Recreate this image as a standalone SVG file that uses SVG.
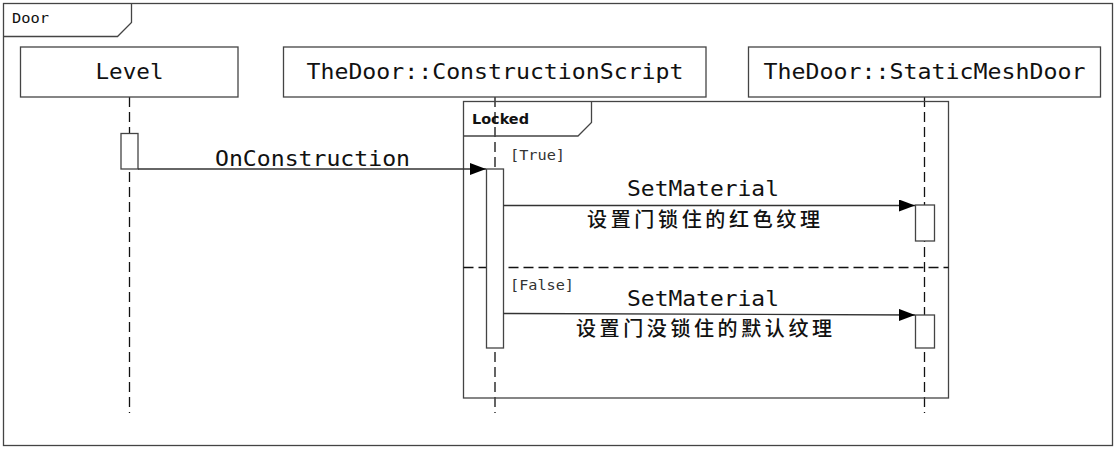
<svg xmlns="http://www.w3.org/2000/svg" width="1118" height="449" viewBox="0 0 1118 449">
<style>
.frame{fill:none;stroke:#444;stroke-width:1.3}
.box{fill:#fff;stroke:#444;stroke-width:1.3}
.life{fill:none;stroke:#111;stroke-width:1.3;stroke-dasharray:10 5}
.act{fill:#fff;stroke:#444;stroke-width:1.3}
.msg{fill:none;stroke:#333;stroke-width:1.3}
.mono{font-family:"DejaVu Sans Mono","Liberation Mono",monospace;fill:#111}
.big{font-size:22px}
.small{font-size:14px;font-family:"DejaVu Sans Mono","Liberation Mono",monospace;fill:#111}
.guard{font-size:14px;font-family:"DejaVu Sans Mono","Liberation Mono",monospace;fill:#333}
.cjk{font-family:"Noto Sans CJK SC",sans-serif;font-size:20px;fill:#111;font-weight:500}
</style>
<defs>
<marker id="arr" markerWidth="16" markerHeight="12" refX="16" refY="6" orient="auto" markerUnits="userSpaceOnUse">
<path d="M0,0 L16,6 L0,12 Z" fill="#000"/>
</marker>
</defs>
<rect width="1118" height="449" fill="#fff"/>
<g id="frame-door">
<rect x="3.5" y="3.5" width="1109" height="442" class="frame"/>
<path d="M3.5,36.5 H117.5 L131.5,22.5 V3.5" class="frame"/>
<text x="12" y="23" class="small" textLength="37" lengthAdjust="spacingAndGlyphs">Door</text>
</g>
<g id="lifelines">
<line x1="129.5" y1="97" x2="129.5" y2="413" class="life"/>
<line x1="495" y1="97" x2="495" y2="413" class="life"/>
<line x1="924.5" y1="97" x2="924.5" y2="413" class="life"/>
</g>
<g id="node-level">
<rect x="20.5" y="47" width="217.5" height="50" class="box"/>
<text x="129.5" y="79" text-anchor="middle" class="mono big" textLength="68" lengthAdjust="spacingAndGlyphs">Level</text>
</g>
<g id="node-constructionscript">
<rect x="283.5" y="47" width="422.5" height="50" class="box"/>
<text x="495" y="79" text-anchor="middle" class="mono big" textLength="377" lengthAdjust="spacingAndGlyphs">TheDoor::ConstructionScript</text>
</g>
<g id="node-staticmeshdoor">
<rect x="748.5" y="47" width="352" height="50" class="box"/>
<text x="924.5" y="79" text-anchor="middle" class="mono big" textLength="322" lengthAdjust="spacingAndGlyphs">TheDoor::StaticMeshDoor</text>
</g>
<g id="frame-locked">
<rect x="463.5" y="101.5" width="485" height="296.5" class="frame"/>
<path d="M463.5,136 H578 L591.5,122.5 V101.5" class="frame"/>
<text x="472" y="124" font-size="14" font-weight="bold" fill="#111" font-family="'DejaVu Sans','Liberation Sans',sans-serif" textLength="57" lengthAdjust="spacingAndGlyphs">Locked</text>
<line x1="463.5" y1="267.5" x2="948.5" y2="267.5" class="life"/>
<text x="510" y="160" class="guard" textLength="55" lengthAdjust="spacingAndGlyphs">[True]</text>
<text x="510" y="290" class="guard" textLength="64" lengthAdjust="spacingAndGlyphs">[False]</text>
</g>
<g id="activations">
<rect x="121" y="133.5" width="17" height="35.5" class="act"/>
<rect x="486.5" y="169" width="17" height="179" class="act"/>
<rect x="915.5" y="205" width="19" height="36" class="act"/>
<rect x="915.5" y="315" width="19" height="33" class="act"/>
</g>
<g id="connectors">
<line x1="138" y1="169" x2="486" y2="169" class="msg" marker-end="url(#arr)"/>
<text x="312.5" y="166" text-anchor="middle" class="mono big" textLength="195" lengthAdjust="spacingAndGlyphs">OnConstruction</text>
<line x1="503.5" y1="205.5" x2="915" y2="205.5" class="msg" marker-end="url(#arr)"/>
<text x="703" y="196" text-anchor="middle" class="mono big" textLength="152" lengthAdjust="spacingAndGlyphs">SetMaterial</text>
<text x="703.5" y="227" text-anchor="middle" class="cjk" textLength="233" lengthAdjust="spacing">设置门锁住的红色纹理</text>
<line x1="503.5" y1="313.5" x2="915" y2="315" class="msg" marker-end="url(#arr)"/>
<text x="703" y="306" text-anchor="middle" class="mono big" textLength="152" lengthAdjust="spacingAndGlyphs">SetMaterial</text>
<text x="704" y="336" text-anchor="middle" class="cjk" textLength="256" lengthAdjust="spacing">设置门没锁住的默认纹理</text>
</g>
</svg>
